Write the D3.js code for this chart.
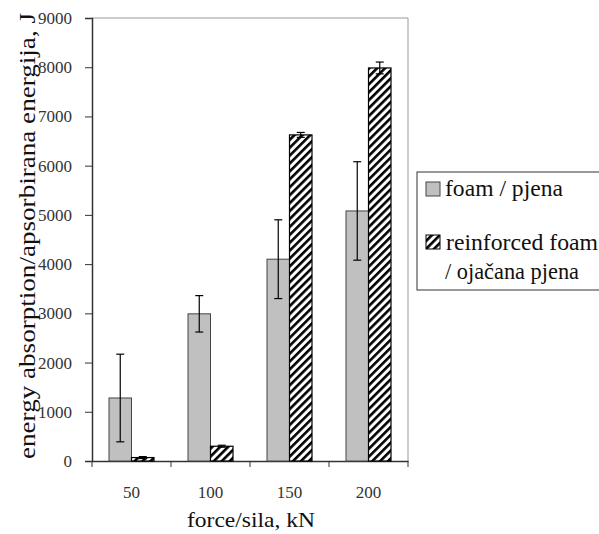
<!DOCTYPE html>
<html><head><meta charset="utf-8">
<script src="https://cdn.jsdelivr.net/npm/d3@7"></script>
<style>
body{margin:0;background:#fff}
svg{display:block}
</style>
</head><body>
<script>
const categories = ["50","100","150","200"];
const foam = [1280, 2990, 4100, 5080];
const foamErr = [890, 370, 800, 1000];
const reinforced = [70, 300, 6625, 7985];
const reinforcedErr = [20, 20, 50, 120];
const seriesNames = ["foam / pjena", "reinforced foam", "/ ojačana pjena"];
const yTicks = [0,1000,2000,3000,4000,5000,6000,7000,8000,9000];

const FONT='"Liberation Serif", "Times New Roman", serif';
const W=599,H=534;
const m={l:92,t:18,r:408,b:461};
const svg=d3.select("body").append("svg").attr("width",W).attr("height",H);
const defs=svg.append("defs");
const P=5.6;
const pat=defs.append("pattern").attr("id","hatch").attr("patternUnits","userSpaceOnUse")
 .attr("width",P).attr("height",P).attr("patternTransform","rotate(45)");
pat.append("rect").attr("width",P).attr("height",P).attr("fill","#fff");
pat.append("rect").attr("x",0).attr("width",2.6).attr("height",P).attr("fill","#000");

const x=d3.scaleBand().domain(categories).range([m.l,m.r]).paddingInner(0).paddingOuter(0);
const y=d3.scaleLinear().domain([0,9000]).range([m.b,m.t]);
const bw=22.5;

// plot border (top/right gray)
svg.append("path").attr("d",`M${m.l},${m.t}H${m.r}V${m.b}`).attr("fill","none").attr("stroke","#999").attr("stroke-width",1);

// y axis
const ya=svg.append("g").attr("transform",`translate(${m.l},0)`)
 .call(d3.axisLeft(y).tickValues(yTicks).tickSize(7).tickPadding(13).tickFormat(d3.format("d")));
ya.attr("font-family",null);
ya.select(".domain").attr("stroke","#333").attr("stroke-width",1.5);
ya.selectAll(".tick line").attr("stroke","#333");
ya.selectAll("text").style("font-family",FONT).style("font-size","17px").attr("fill","#333");

// x axis
const xa=svg.append("g").attr("transform",`translate(0,${m.b})`)
 .call(d3.axisBottom(x).tickSize(0).tickPadding(25));
xa.attr("font-family",null);
xa.select(".domain").attr("stroke","#333").attr("stroke-width",1.5);
xa.selectAll("text").style("font-family",FONT).style("font-size","17px").attr("fill","#333");
// boundary ticks
const bounds=categories.map(c=>x(c)).concat([x.range()[1]]);
svg.append("g").selectAll("line").data(bounds).join("line")
 .attr("x1",d=>d).attr("x2",d=>d).attr("y1",m.b).attr("y2",m.b+6).attr("stroke","#333");

const gStart=c=>x(c)+(x.bandwidth()-2*bw)/2;
// foam bars
svg.append("g").selectAll("rect").data(categories).join("rect")
 .attr("x",c=>gStart(c)).attr("width",bw)
 .attr("y",(c,i)=>y(foam[i])).attr("height",(c,i)=>y(0)-y(foam[i]))
 .attr("fill","#c0c0c0").attr("stroke","#444").attr("stroke-width",1);
// reinforced bars
svg.append("g").selectAll("rect").data(categories).join("rect")
 .attr("x",c=>gStart(c)+bw).attr("width",bw)
 .attr("y",(c,i)=>y(reinforced[i])).attr("height",(c,i)=>y(0)-y(reinforced[i]))
 .attr("fill","url(#hatch)").attr("stroke","#000").attr("stroke-width",1.2);

function errBars(vals,errs,off){
 const g=svg.append("g").attr("stroke","#000").attr("stroke-width",1.2);
 categories.forEach((c,i)=>{
  const cx=gStart(c)+off+bw/2;
  const t=y(vals[i]+errs[i]), b=y(vals[i]-errs[i]);
  g.append("line").attr("x1",cx).attr("x2",cx).attr("y1",t).attr("y2",b);
  g.append("line").attr("x1",cx-4).attr("x2",cx+4).attr("y1",t).attr("y2",t);
  g.append("line").attr("x1",cx-4).attr("x2",cx+4).attr("y1",b).attr("y2",b);
 });
}
errBars(foam,foamErr,0);
errBars(reinforced,reinforcedErr,bw);

function txt(sel){return sel.style("font-family",FONT);}
// axis titles
txt(svg.append("text")).attr("x",251).attr("y",527).attr("text-anchor","middle")
 .style("font-size","22px").attr("fill","#111")
 .attr("textLength",128).attr("lengthAdjust","spacingAndGlyphs").text("force/sila, kN");
txt(svg.append("text")).attr("transform","translate(35,236) rotate(-90)").attr("text-anchor","middle")
 .style("font-size","23px").attr("fill","#111")
 .attr("textLength",446).attr("lengthAdjust","spacingAndGlyphs").text("energy absorption/apsorbirana energija, J");

// legend
const lg=svg.append("g");
lg.append("rect").attr("x",417).attr("y",172).attr("width",200).attr("height",118)
 .attr("fill","#fff").attr("stroke","#333").attr("stroke-width",1);
lg.append("rect").attr("x",426).attr("y",182).attr("width",14).attr("height",14)
 .attr("fill","#c0c0c0").attr("stroke","#444");
lg.append("rect").attr("x",426).attr("y",235).attr("width",14).attr("height",14)
 .attr("fill","url(#hatch)").attr("stroke","#000");
txt(lg.append("text")).attr("x",445).attr("y",196).style("font-size","23px").attr("fill","#111")
 .attr("textLength",118).attr("lengthAdjust","spacingAndGlyphs").text(seriesNames[0]);
txt(lg.append("text")).attr("x",446).attr("y",250).style("font-size","23px").attr("fill","#111")
 .attr("textLength",152).attr("lengthAdjust","spacingAndGlyphs").text(seriesNames[1]);
txt(lg.append("text")).attr("x",445).attr("y",279).style("font-size","23px").attr("fill","#111")
 .attr("textLength",134).attr("lengthAdjust","spacingAndGlyphs").text(seriesNames[2]);
</script>
</body></html>
